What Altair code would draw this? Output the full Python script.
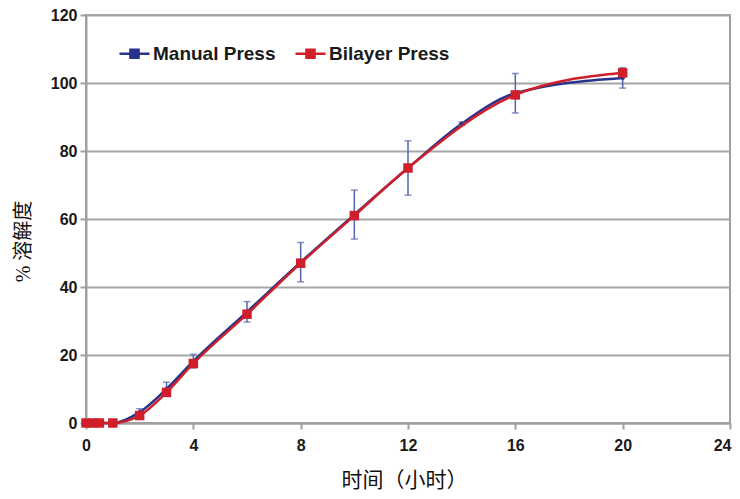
import altair as alt
import pandas as pd

# Data
manual_time = [0, 0.25, 0.5, 1, 2, 3, 4, 6, 8, 10, 12, 14, 16, 20]
manual_val = [0, 0, 0, 0, 3.2, 10, 18.2, 32.7, 47.3, 61.3, 75, 88, 97, 101.5]
manual_err = [0, 0, 0, 0, 1, 2, 2, 3, 5.8, 7.2, 8, 0.5, 5.8, 3]

bilayer_time = [0, 0.25, 0.5, 1, 2, 3, 4, 6, 8, 10, 12, 16, 20]
bilayer_val = [0, 0, 0, 0, 2.2, 9, 17.5, 32, 47, 61, 75, 96.5, 103]

series_names = ["Manual Press", "Bilayer Press"]
series_colors = ["#27338c", "#d01f2a"]
x_ticks = [0, 4, 8, 12, 16, 20, 24]
y_ticks = [0, 20, 40, 60, 80, 100, 120]

manual = pd.DataFrame({
    "t": manual_time, "v": manual_val,
    "lo": [v - e for v, e in zip(manual_val, manual_err)],
    "hi": [v + e for v, e in zip(manual_val, manual_err)],
    "s": series_names[0],
})
bilayer = pd.DataFrame({"t": bilayer_time, "v": bilayer_val, "s": series_names[1]})

cscale = alt.Scale(domain=series_names, range=series_colors)
yscale = alt.Scale(domain=[0, 120], nice=False)

x = alt.X("t:Q", scale=alt.Scale(domain=[0, 24], nice=False),
          axis=alt.Axis(values=x_ticks, title="时间（小时）",
                        grid=False, titleX=318, titlePadding=16, labelFlush=False,
                        labelPadding=8,
                        labelAlign={"condition": {"test": "datum.value == 24", "value": "right"},
                                    "value": "center"},
                        labelOffset={"condition": {"test": "datum.value == 24", "value": 1},
                                     "value": 0},
                        titleFont="Noto Sans CJK SC", titleFontSize=21,
                        titleFontWeight="normal", titleColor="#111111"))
yaxis = alt.Axis(values=y_ticks, title="% 溶解度",
                 titleFont="Liberation Serif, Noto Sans CJK SC", titleFontSize=20,
                 titleFontWeight="normal", titleColor="#111111",
                 labelPadding=3, labelFlush=False,
                 titleY=226, titlePadding=17)
y = alt.Y("v:Q", scale=yscale, axis=yaxis)
color = alt.Color("s:N", scale=cscale, title=None,
                  legend=alt.Legend(orient="none", legendX=32, legendY=22,
                                    direction="horizontal",
                                    symbolType="M-1,0L1,0M-0.27,-0.27L0.27,-0.27L0.27,0.27L-0.27,0.27Z",
                                    symbolSize=900, symbolStrokeWidth=2.5,
                                    labelFont="Liberation Sans", labelFontSize=19,
                                    labelFontWeight="bold", labelColor="#1a1a1a",
                                    columnPadding=14, labelOffset=2))

m_line = alt.Chart(manual).mark_line(interpolate="monotone", strokeWidth=2.5).encode(
    x=x, y=y, color=color)
m_err = alt.Chart(manual).mark_errorbar(ticks=alt.MarkConfig(size=7), color="#5564b0",
                                        thickness=1.5).encode(
    x="t:Q", y=alt.Y("lo:Q", scale=yscale, axis=yaxis), y2="hi:Q")
m_pts = alt.Chart(manual).mark_point(shape="diamond", filled=True, size=30, opacity=1).encode(
    x="t:Q", y="v:Q", color=alt.Color("s:N", legend=None, scale=cscale))
b_line = alt.Chart(bilayer).mark_line(interpolate="monotone", strokeWidth=2.5).encode(
    x="t:Q", y="v:Q", color=alt.Color("s:N", legend=None, scale=cscale))
b_pts = alt.Chart(bilayer).mark_point(shape="square", filled=True, size=90, opacity=1).encode(
    x="t:Q", y="v:Q", color=alt.Color("s:N", legend=None, scale=cscale))

chart = alt.layer(m_line, m_err, m_pts, b_line, b_pts).properties(
    width=644, height=408,
    autosize=alt.AutoSizeParams(type="none"),
    padding={"left": 78, "top": 7, "right": 2, "bottom": 68},
).configure_view(stroke="#a0a0a0", strokeWidth=2).configure_axis(
    labelFont="Liberation Sans", labelFontSize=16, labelFontWeight="bold",
    labelColor="#1a1a1a", domainColor="#a0a0a0", domainWidth=2,
    tickColor="#a0a0a0", tickWidth=2, tickSize=6,
    gridColor="#a6a6a6", gridWidth=2, gridOpacity=1,
)

chart.save("out.html", embed_options={"renderer": "svg", "actions": False})
